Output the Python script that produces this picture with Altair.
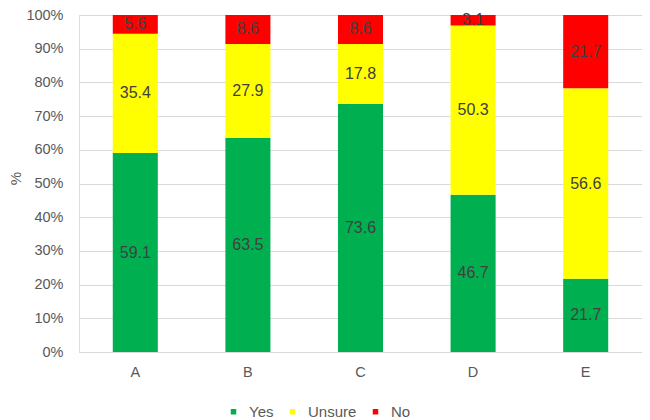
import altair as alt
import pandas as pd

categories = ["A", "B", "C", "D", "E"]
yes = [59.1, 63.5, 73.6, 46.7, 21.7]
unsure = [35.4, 27.9, 17.8, 50.3, 56.6]
no = [5.6, 8.6, 8.6, 3.1, 21.7]
series = ["Yes", "Unsure", "No"]
colors = ["#00B050", "#FFFF00", "#FF0000"]
y_ticks = [0, 0.1, 0.2, 0.3, 0.4, 0.5, 0.6, 0.7, 0.8, 0.9, 1.0]

rows = []
for i, c in enumerate(categories):
    for k, (s, vals) in enumerate(zip(series, [yes, unsure, no])):
        rows.append({"cat": c, "series": s, "value": vals[i], "order": k})
df = pd.DataFrame(rows)

FONT = "Liberation Sans"

base = alt.Chart(df).transform_stack(
    stack="value",
    groupby=["cat"],
    as_=["y0", "y1"],
    offset="normalize",
    sort=[alt.SortField("order", order="ascending")],
).transform_calculate(mid="(datum.y0 + datum.y1) / 2")

x_axis = alt.Axis(
    title=None, labelAngle=0, ticks=False, domain=True, domainColor="#d9d9d9",
    labelPadding=13, labelFontSize=14.5, labelColor="#595959", labelFont=FONT,
)
x_scale = alt.Scale(paddingInner=0.6, paddingOuter=0.3)

y_axis = alt.Axis(
    values=y_ticks, tickCount=11, format=".0%", title="%", grid=True, gridColor="#d9d9d9",
    domain=False, ticks=False, labelPadding=16, labelFontSize=14.5,
    labelOverlap=False, labelColor="#595959", labelFont=FONT, titleFont=FONT,
    titleFontSize=15, titleFontWeight="normal", titleColor="#595959",
    titleAngle=-90, titleX=-64, titleY=163, titleAlign="center",
    titleBaseline="middle",
)
y_scale = alt.Scale(domain=[0, 1], nice=False)

bars = base.mark_bar().encode(
    x=alt.X("cat:N", sort=categories, scale=x_scale, axis=x_axis),
    y=alt.Y("y0:Q", scale=y_scale, axis=y_axis),
    y2="y1:Q",
    color=alt.Color(
        "series:N",
        sort=series,
        scale=alt.Scale(domain=series, range=colors),
        legend=alt.Legend(
            title=None, orient="none", direction="horizontal", legendX=147, legendY=389,
            symbolType="square", symbolSize=30, symbolStrokeWidth=0, labelFontSize=15,
            labelColor="#595959", labelFont=FONT, labelOffset=8, columnPadding=11,
            padding=0,
        ),
    ),
    order=alt.Order("order:Q"),
)

labels = base.mark_text(fontSize=16, color="#404040", font=FONT).encode(
    x=alt.X("cat:N", sort=categories, scale=x_scale, axis=x_axis),
    y=alt.Y("mid:Q", scale=y_scale, axis=y_axis),
    text=alt.Text("value:Q", format=".1f"),
)

chart = alt.layer(bars, labels).properties(
    width=563,
    height=337,
    autosize=alt.AutoSizeParams(type="none"),
    padding={"left": 71, "top": 7, "right": 0, "bottom": 68},
).configure_view(stroke=None).configure(background="white")

chart.save("out.html", embed_options={"renderer": "svg", "actions": False})
